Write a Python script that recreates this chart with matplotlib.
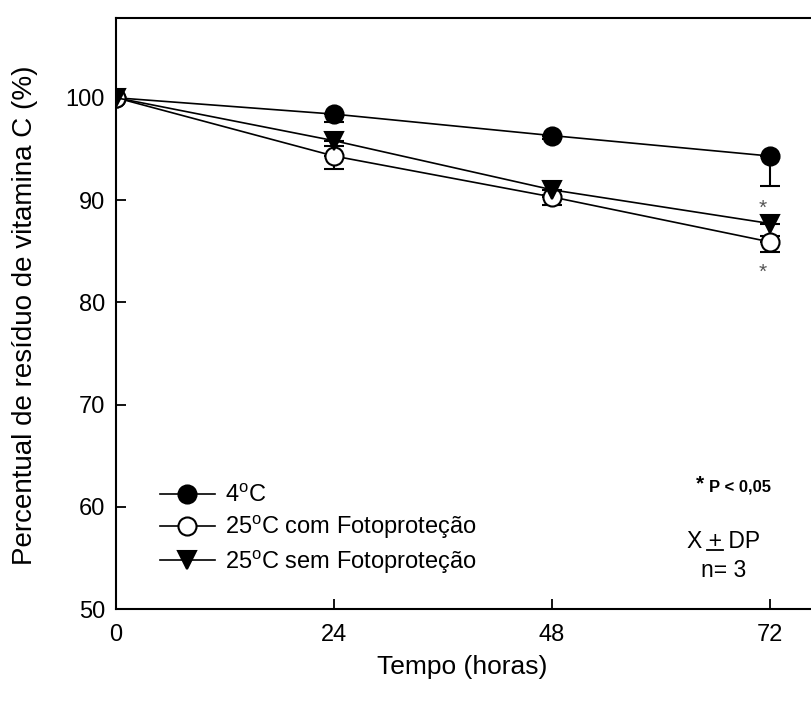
import numpy as np
import matplotlib
matplotlib.use('Agg')
import matplotlib.pyplot as plt
from matplotlib.lines import Line2D

plt.rcParams['font.family'] = ['Liberation Sans', 'DejaVu Sans']
plt.rcParams['mathtext.default'] = 'regular'

#--data--#
horas = [0, 24, 48, 72]
frio = [100, 98.4, 96.3, 94.3]
frio_dp = [0, 0.8, 0.3, 2.9]
com_foto = [100, 94.3, 90.3, 85.9]
com_foto_dp = [0, 1.3, 0.8, 1.0]
sem_foto = [100, 95.8, 91.0, 87.7]
sem_foto_dp = [0, 0.5, 0.5, 1.2]
labels = ['4$^{o}$C', '25$^{o}$C com Fotoproteção', '25$^{o}$C sem Fotoproteção']

fig = plt.figure(figsize=(8.12, 7.05), dpi=100)
ax = fig.add_axes([0.1429, 0.136, 0.895, 0.8385])

ms = 13
lw = 1.2
styles = [('o', 'black'), ('o', 'white'), ('v', 'black')]
series = [(frio, frio_dp), (com_foto, com_foto_dp), (sem_foto, sem_foto_dp)]
for (vals, dp), (mk, fc) in zip(series, styles):
    ax.errorbar(horas, vals, yerr=[dp, np.zeros(len(dp))], color='black', marker=mk,
                ms=ms, mfc=fc, mec='black', mew=1.5, lw=lw, capsize=7,
                elinewidth=1.5, capthick=1.5, zorder=3)

#--significance--#
ax.text(71.2, 89.2, '*', color='#555555', fontsize=15, ha='center', va='center')
ax.text(71.2, 82.9, '*', color='#555555', fontsize=15, ha='center', va='center')

ax.set_xlim(0, 80)
ax.set_ylim(50, 107.8)
ax.set_xticks(horas)
ax.set_yticks([50, 60, 70, 80, 90, 100])
ax.tick_params(direction='in', length=7, width=1.3, labelsize=17)
ax.tick_params(axis='x', pad=11)
ax.tick_params(axis='y', pad=8)
for s in ax.spines.values():
    s.set_linewidth(1.5)

ax.set_xlabel('Tempo (horas)', fontsize=19)
ax.set_ylabel('Percentual de resíduo de vitamina C (%)', fontsize=20)
ax.xaxis.set_label_coords(0.476, -0.078)
ax.yaxis.set_label_coords(-0.107, 0.497)

handles = [Line2D([], [], color='black', marker=mk, ms=ms, mfc=fc, mec='black',
                  mew=1.5, lw=lw) for mk, fc in styles]
leg = ax.legend(handles, labels, loc='upper left', bbox_to_anchor=(0.06, 0.21),
                frameon=False, fontsize=17, handlelength=2.33, handletextpad=0.42,
                labelspacing=0.3, borderpad=0, borderaxespad=0)

ax.text(64.3, 62.2, '*', fontsize=15, fontweight='bold', ha='center', va='center')
ax.text(68.7, 61.9, 'P < 0,05', fontsize=12, fontweight='bold', ha='center', va='center')
ax.text(66.9, 56.6, 'X + DP', fontsize=16.5, ha='center', va='center')
ax.plot([65.1, 66.8], [55.8, 55.8], color='black', lw=1.3)
ax.text(66.9, 53.8, 'n= 3', fontsize=16.5, ha='center', va='center')

fig.savefig('out.png', dpi=100)
